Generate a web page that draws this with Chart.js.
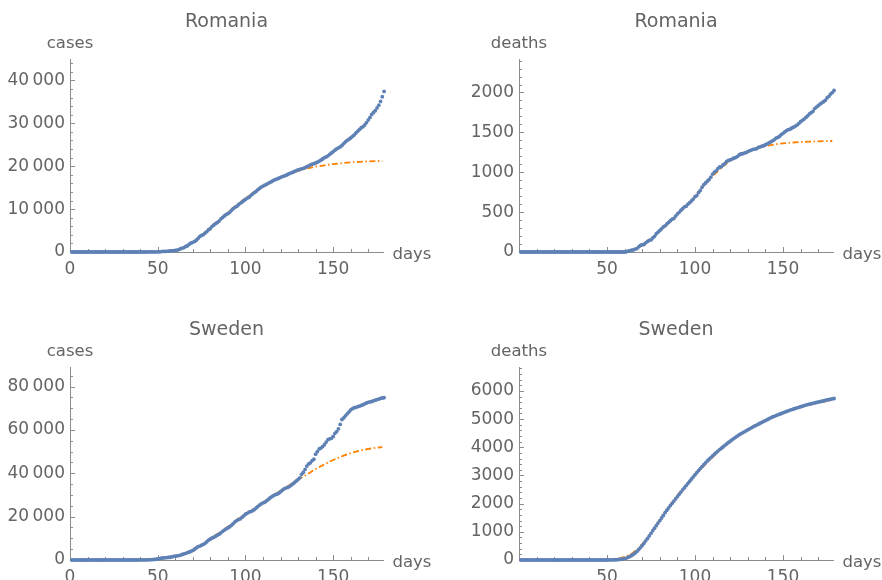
<!DOCTYPE html>
<html>
<head>
<meta charset="utf-8">
<script src="https://cdn.jsdelivr.net/npm/chart.js@4.4.1/dist/chart.umd.min.js"></script>
<style>
  body { margin: 0; background: #fff; }
  #wrap { position: relative; width: 882px; height: 580px; }
  #wrap canvas { position: absolute; }
</style>
</head>
<body>
<div id="wrap">
  <canvas id="c1" width="441" height="290" style="left:0;top:0"></canvas>
  <canvas id="c2" width="441" height="290" style="left:441px;top:0"></canvas>
  <canvas id="c3" width="441" height="290" style="left:0;top:290px"></canvas>
  <canvas id="c4" width="441" height="290" style="left:441px;top:290px"></canvas>
</div>
<script>
// day of the first value in each series (values are daily from there on)
const firstDay = 1;

const roCases = [
  0,0,0,0,0,0,0,0,0,0,
  0,0,0,0,0,0,0,0,0,0,
  0,0,0,0,0,0,0,0,0,0,
  0,0,0,0,0,1,1,3,3,3,
  3,4,4,6,9,9,15,15,25,45,
  49,89,123,131,158,184,260,277,308,367,
  433,576,762,906,1029,1292,1452,1815,2109,2245,
  2460,2738,3183,3613,3864,4057,4417,4761,5202,5467,
  5990,6300,6633,6879,7216,7707,8067,8418,8746,8936,
  9242,9710,10096,10417,10635,11036,11339,11616,11978,12240,
  12567,12732,13163,13512,13837,14107,14499,14811,15131,15362,
  15588,15778,16002,16247,16437,16704,16871,17036,17191,17387,
  17585,17712,17857,18070,18283,18429,18594,18791,18982,19133,
  19257,19398,19517,19669,19907,20103,20290,20479,20604,20749,
  20945,21182,21404,21679,21999,22165,22415,22760,23080,23400,
  23730,24045,24291,24505,24826,25286,25697,26022,26313,26582,
  26970,27296,27746,28166,28582,28973,29223,29620,30175,30789,
  31381,32079,32535,32948,33585,34226,35100,36200,37450
];

const roDeaths = [
  0,0,0,0,0,0,0,0,0,0,
  0,0,0,0,0,0,0,0,0,0,
  0,0,0,0,0,0,0,0,0,0,
  0,0,0,0,0,0,0,0,0,0,
  0,0,0,0,0,0,0,0,0,0,
  0,0,0,0,0,0,0,0,0,0,
  3,11,17,23,26,37,43,65,82,92,
  94,115,133,146,151,176,197,229,248,270,
  291,316,328,351,372,392,411,421,451,478,
  498,524,545,567,575,601,619,641,663,693,
  708,744,771,812,844,865,888,909,939,977,
  1002,1016,1046,1066,1070,1094,1107,1137,1147,1156,
  1164,1176,1184,1196,1216,1229,1232,1240,1247,1259,
  1269,1278,1288,1290,1296,1311,1319,1326,1333,1345,
  1355,1369,1380,1394,1407,1427,1437,1451,1473,1488,
  1506,1523,1534,1540,1555,1565,1579,1592,1612,1634,
  1651,1667,1687,1708,1731,1747,1764,1799,1817,1834,
  1854,1870,1884,1901,1932,1952,1980,1999,2025
];

const seCases = [
  0,0,0,0,0,0,0,0,0,0,
  1,1,1,1,1,1,1,1,1,1,
  1,1,1,1,1,1,1,1,1,1,
  1,1,1,1,1,1,2,7,12,14,
  15,21,35,94,101,161,203,248,355,500,
  599,814,961,1022,1103,1190,1279,1439,1639,1763,
  1934,2046,2286,2526,2840,3069,3447,3700,4028,4435,
  4947,5568,6131,6443,6830,7206,7693,8419,9141,9685,
  10151,10483,10948,11445,11927,12540,13216,13822,14385,14777,
  15322,16004,16755,17567,18177,18640,18926,19621,20302,21092,
  21520,22082,22317,22721,23216,23918,24623,25265,25921,26322,
  26670,27272,27909,28582,29207,29677,30143,30377,30799,31523,
  32172,32809,33188,33459,33843,34440,35088,35727,36476,37113,
  37900,39500,40500,41800,43300,44300,44800,45800,46500,48800,
  50000,51200,51600,52300,53200,54400,55500,55900,56100,57000,
  58400,59200,60500,62500,64800,65500,66500,67400,68300,69200,
  69800,70200,70400,70700,71000,71300,71600,72000,72400,72700,
  72900,73100,73400,73700,74000,74200,74500,74700,74850
];

const seDeaths = [
  0,0,0,0,0,0,0,0,0,0,
  0,0,0,0,0,0,0,0,0,0,
  0,0,0,0,0,0,0,0,0,0,
  0,0,0,0,0,0,0,0,0,0,
  0,0,0,0,0,0,0,0,0,0,
  1,2,4,6,9,13,19,27,38,52,
  70,95,125,160,200,250,305,370,440,515,
  595,680,765,855,945,1040,1130,1220,1310,1400,
  1490,1580,1680,1765,1850,1930,2010,2090,2170,2250,
  2330,2410,2490,2565,2640,2720,2795,2875,2950,3025,
  3100,3175,3245,3315,3385,3450,3515,3575,3635,3695,
  3755,3810,3865,3920,3970,4020,4070,4120,4170,4215,
  4265,4310,4355,4400,4440,4478,4515,4550,4585,4620,
  4655,4690,4725,4760,4790,4822,4854,4886,4918,4950,
  4982,5014,5045,5075,5100,5125,5150,5175,5200,5224,
  5248,5272,5296,5320,5340,5360,5380,5400,5420,5440,
  5460,5480,5500,5515,5530,5545,5560,5575,5590,5605,
  5620,5635,5650,5665,5680,5693,5706,5720,5732
];

// fitted curves, read at these days
const fitDays = [0,5,10,15,20,25,30,35,40,45,50,55,60,65,70,75,80,85,90,95,100,
  105,110,115,120,125,130,135,140,145,150,155,160,165,170,175,178];
const roCasesFit = [0,0,0,1,2,4,8,16,32,65,130,260,480,1100,2250,3900,5700,7500,9250,10950,12550,
  14000,15350,16500,17450,18250,18900,19450,19880,20220,20500,20720,20890,21020,21120,21200,21240];
const roDeathsFit = [0,0,0,0,0,0,0,0,0,0,0,2,8,30,85,165,265,365,470,580,700,
  830,950,1055,1145,1210,1262,1300,1328,1348,1362,1372,1379,1384,1388,1391,1392];
const seCasesFit = [0,2,5,10,20,35,60,110,200,350,600,1000,1650,2900,4600,6900,9900,12500,15300,18500,21200,
  23800,26500,29300,31900,34500,37100,39400,41900,44100,46100,47800,49300,50400,51200,51800,52100];
const seDeathsFit = [0,0,0,0,0,0,0,1,2,4,12,40,110,270,560,960,1420,1880,2290,2660,3010,
  3340,3650,3940,4200,4430,4630,4810,4970,5110,5230,5340,5430,5510,5580,5640,5670];

// labelled ticks
const xTicks = [0, 50, 100, 150];
const roCasesTicks = [0, 10000, 20000, 30000, 40000];
const roDeathsTicks = [0, 500, 1000, 1500, 2000];
const seCasesTicks = [0, 20000, 40000, 60000, 80000];
const seDeathsTicks = [0, 1000, 2000, 3000, 4000, 5000, 6000];

const blue = '#5e81b5';
const orange = '#ff8000';
const axisCol = '#8c8c8c';
const textCol = '#646464';
const fontFamily = '"DejaVu Sans", sans-serif';

Chart.defaults.font.family = fontFamily;
Chart.defaults.font.size = 17;
Chart.defaults.color = textCol;

// thin-space grouping for 5-digit numbers, like the original
function fmt(v) {
  if (v >= 10000) {
    const s = String(v);
    return s.slice(0, s.length - 3) + '\u2009' + s.slice(-3);
  }
  return String(v);
}

// inward tick marks, titles and axis labels
const decor = {
  id: 'decor',
  beforeDatasetsDraw(chart, args, o) {
    const { ctx, chartArea: a, scales: { x, y } } = chart;
    ctx.save();
    ctx.strokeStyle = axisCol;
    ctx.lineWidth = 1;
    ctx.beginPath();
    for (let d = 0; d <= x.max; d += 10) {
      const px = Math.round(x.getPixelForValue(d)) + 0.5;
      const len = d % 50 === 0 ? 5 : 3;
      ctx.moveTo(px, a.bottom);
      ctx.lineTo(px, a.bottom - len);
    }
    for (let v = 0; v <= y.max; v += o.yMinor) {
      const py = Math.round(y.getPixelForValue(v)) + 0.5;
      const len = v % o.yMajor === 0 ? 5 : 3;
      ctx.moveTo(a.left, py);
      ctx.lineTo(a.left + len, py);
    }
    ctx.stroke();
    ctx.restore();
  },
  afterDraw(chart, args, o) {
    const { ctx, chartArea: a } = chart;
    ctx.save();
    ctx.fillStyle = textCol;
    ctx.textBaseline = 'alphabetic';
    ctx.textAlign = 'center';
    ctx.font = '19px ' + fontFamily;
    ctx.fillText(o.title, (a.left + a.right) / 2, a.top - 32);
    ctx.font = '16.5px ' + fontFamily;
    ctx.fillText(o.yLabel, a.left, a.top - 11);
    ctx.textAlign = 'left';
    ctx.fillText('days', a.right + 9.5, a.bottom + 6.5);
    ctx.restore();
  }
};

const panels = [
  { id: 'c1', title: 'Romania', yLabel: 'cases', values: roCases, fit: roCasesFit, yTicks: roCasesTicks,
    yMax: 45000, yMajor: 10000, yMinor: 2000, left: 70, right: 383, top: 59, bottom: 252, xZero: true },
  { id: 'c2', title: 'Romania', yLabel: 'deaths', values: roDeaths, fit: roDeathsFit, yTicks: roDeathsTicks,
    yMax: 2420, yMajor: 500, yMinor: 100, left: 78, right: 392, top: 59, bottom: 252, xZero: false },
  { id: 'c3', title: 'Sweden', yLabel: 'cases', values: seCases, fit: seCasesFit, yTicks: seCasesTicks,
    yMax: 89000, yMajor: 20000, yMinor: 5000, left: 70, right: 383, top: 77, bottom: 270, xZero: true },
  { id: 'c4', title: 'Sweden', yLabel: 'deaths', values: seDeaths, fit: seDeathsFit, yTicks: seDeathsTicks,
    yMax: 6850, yMajor: 1000, yMinor: 200, left: 78, right: 392, top: 77, bottom: 270, xZero: false }
];

panels.forEach(p => {
  const canvas = document.getElementById(p.id);
  new Chart(canvas, {
    type: 'scatter',
    data: {
      datasets: [
        {
          data: p.values.map((v, i) => ({ x: firstDay + i, y: v })),
          showLine: false,
          pointRadius: 1.9,
          pointBackgroundColor: blue,
          pointBorderWidth: 0,
          clip: false,
          order: 0
        },
        {
          data: fitDays.map((d, i) => ({ x: d, y: p.fit[i] })),
          showLine: true,
          borderColor: orange,
          borderWidth: 1.8,
          borderDash: [6, 2.5, 1.5, 2.5],
          cubicInterpolationMode: 'monotone',
          pointRadius: 0,
          clip: false,
          order: 1
        }
      ]
    },
    options: {
      responsive: false,
      animation: false,
      devicePixelRatio: 1,
      layout: { padding: { left: 0, top: p.top, right: 441 - p.right, bottom: 0 } },
      plugins: {
        legend: { display: false },
        tooltip: { enabled: false },
        decor: { title: p.title, yLabel: p.yLabel, yMajor: p.yMajor, yMinor: p.yMinor }
      },
      scales: {
        x: {
          type: 'linear',
          min: 0,
          max: 178.4,
          afterFit: s => { s.height = 290 - p.bottom; },
          afterBuildTicks: s => { s.ticks = xTicks.map(v => ({ value: v })); },
          grid: { display: false, drawTicks: false },
          border: { color: axisCol, width: 1 },
          ticks: {
            autoSkip: false,
            maxRotation: 0,
            padding: 7,
            color: textCol,
            font: { family: fontFamily, size: 17 },
            callback: v => (v === 0 && !p.xZero) ? '' : String(v)
          }
        },
        y: {
          type: 'linear',
          min: 0,
          max: p.yMax,
          afterFit: s => { s.width = p.left; },
          afterBuildTicks: s => { s.ticks = p.yTicks.map(v => ({ value: v })); },
          grid: { display: false, drawTicks: false },
          border: { color: axisCol, width: 1 },
          ticks: {
            autoSkip: false,
            padding: 5,
            color: textCol,
            font: { family: fontFamily, size: 17 },
            callback: v => fmt(v)
          }
        }
      }
    },
    plugins: [decor]
  });
});
</script>
</body>
</html>
